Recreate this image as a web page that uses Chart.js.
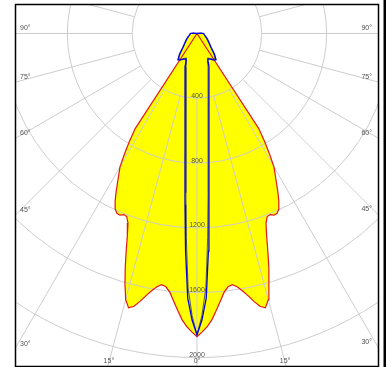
<!DOCTYPE html>
<html>
<head>
<meta charset="utf-8">
<script src="https://cdn.jsdelivr.net/npm/chart.js@4.4.0/dist/chart.umd.min.js"></script>
<style>
  html, body { margin: 0; padding: 0; background: #fff; }
</style>
</head>
<body>
<canvas id="polarChart" width="387" height="367"></canvas>
<script>
// luminous intensity (cd) against gamma angle (deg), curves are symmetric about 0°
const redAngles  = [0, 1, 2, 3, 4, 5, 6, 7, 8, 9, 10, 11, 12, 13, 14, 15, 16, 17, 18, 19, 20, 21, 22, 23, 24, 25, 26, 27, 28, 29, 30, 31, 32, 33, 34];
const redValues  = [1871, 1842, 1810, 1768, 1712, 1657, 1605, 1575, 1566, 1582, 1612, 1648, 1690, 1728, 1745, 1700, 1612, 1515, 1415, 1320, 1245, 1210, 1205, 1218, 1215, 1195, 1152, 1100, 1045, 995, 950, 870, 790, 700, 0];
const blueAngles = [0, 1, 2, 3, 4, 5, 6, 7, 8, 10, 12, 14, 16, 18, 20, 22, 24, 27, 30, 33, 36, 40, 45, 50, 60, 70, 80, 90, 95, 100];
const blueValues = [1860, 1767, 1635, 1345, 1060, 850, 705, 605, 530, 425, 355, 305, 268, 238, 212, 180, 172, 178, 186, 195, 200, 168, 125, 103, 76, 58, 46, 42, 25, 0];
const greyValues = [1860, 1740, 1570, 1260, 985, 790, 655, 560, 490, 392, 328, 282, 247, 220, 196, 168, 165, 172, 180, 188, 192, 160, 118, 98, 72, 55, 44, 40, 22, 0];
const ringValues = [400, 800, 1200, 1600, 2000];
const angleTicks = [0, 15, 30, 45, 60, 75, 90];

function toPoints(angles, values) {
  const pts = [];
  for (let i = angles.length - 1; i >= 0; i--) {
    const t = angles[i] * Math.PI / 180;
    pts.push({x: -values[i] * Math.sin(t), y: -values[i] * Math.cos(t)});
  }
  for (let i = 1; i < angles.length; i++) {
    const t = angles[i] * Math.PI / 180;
    pts.push({x: values[i] * Math.sin(t), y: -values[i] * Math.cos(t)});
  }
  return pts;
}

const redPts = toPoints(redAngles, redValues);
const bluePts = toPoints(blueAngles, blueValues);
const greyPts = toPoints(blueAngles, greyValues);

const polarGrid = {
  id: 'polarGrid',
  beforeDatasetDraw(chart, args) {
    if (args.index !== 2) return;
    const {ctx, chartArea: a, scales: {x, y}} = chart;
    const cx = x.getPixelForValue(0), cy = y.getPixelForValue(0);
    const rad = v => x.getPixelForValue(v) - cx;
    ctx.save();
    ctx.beginPath();
    ctx.rect(a.left, a.top, a.right - a.left, a.bottom - a.top);
    ctx.clip();
    ctx.strokeStyle = '#cdcdcd';
    ctx.lineWidth = 1;
    ringValues.forEach(v => {
      ctx.beginPath();
      ctx.arc(cx, cy, rad(v), 0, Math.PI * 2);
      ctx.stroke();
    });
    const r0 = rad(ringValues[0]), r1 = rad(3000);
    for (let deg = 0; deg < 360; deg += 15) {
      const t = deg * Math.PI / 180;
      ctx.beginPath();
      ctx.moveTo(cx + r0 * Math.sin(t), cy + r0 * Math.cos(t));
      ctx.lineTo(cx + r1 * Math.sin(t), cy + r1 * Math.cos(t));
      ctx.stroke();
    }
    ctx.restore();
  },
  afterDatasetsDraw(chart) {
    const {ctx, chartArea: a, scales: {x, y}} = chart;
    const cx = x.getPixelForValue(0), cy = y.getPixelForValue(0);
    ctx.save();
    ctx.font = '7px "Liberation Sans", Arial, sans-serif';
    ctx.fillStyle = '#505050';
    ctx.textBaseline = 'middle';

    // intensity values along 0°
    ctx.textAlign = 'center';
    ringValues.forEach(v => {
      ctx.fillText(String(v), cx, y.getPixelForValue(-v) - 2.5);
    });

    // angle labels where the rays meet the frame
    angleTicks.forEach(deg => {
      const t = deg * Math.PI / 180;
      const sides = deg === 0 ? [1] : [-1, 1];
      sides.forEach(side => {
        const s = Math.sin(t), c = Math.cos(t);
        const tx = s > 0 ? (side < 0 ? cx - a.left : a.right - cx) / s : Infinity;
        const ty = c > 1e-6 ? (a.bottom - cy) / c : Infinity;
        const txt = deg + '°';
        if (tx < ty) {
          const yi = cy + tx * c;
          ctx.textAlign = side < 0 ? 'left' : 'right';
          ctx.fillText(txt, side < 0 ? a.left + 5 : a.right - 6, yi - 5);
        } else {
          const xi = cx + side * ty * s;
          ctx.textAlign = 'center';
          ctx.fillText(txt, deg === 0 ? xi : xi - side, a.bottom - 4.5);
        }
      });
    });

    // frame
    ctx.strokeStyle = '#000';
    ctx.lineWidth = 1.5;
    ctx.strokeRect(a.left + 0.5, a.top + 0.5, a.right - a.left, a.bottom - a.top);
    ctx.fillStyle = '#000';
    ctx.fillRect(383.5, 0, 2.5, chart.height);
    ctx.restore();
  }
};

new Chart(document.getElementById('polarChart'), {
  type: 'scatter',
  data: {
    datasets: [
      {label: 'C90-C270', data: bluePts, showLine: true, borderColor: '#0000e0', borderWidth: 1.3, pointRadius: 0, fill: false},
      {label: 'C90-C270 b', data: greyPts, showLine: true, borderColor: '#5a5a5a', borderWidth: 1, pointRadius: 0, fill: false},
      {label: 'C0-C180', data: redPts, showLine: true, borderColor: '#e01818', borderWidth: 1.2, pointRadius: 0, fill: false},
      {label: 'fill b', data: bluePts, showLine: true, borderWidth: 0, borderColor: 'rgba(0,0,0,0)', backgroundColor: '#ffff00', pointRadius: 0, fill: 'shape'},
      {label: 'fill a', data: redPts, showLine: true, borderWidth: 0, borderColor: 'rgba(0,0,0,0)', backgroundColor: '#ffff00', pointRadius: 0, fill: 'shape'}
    ]
  },
  options: {
    responsive: false,
    animation: false,
    layout: {padding: {left: 15, top: 4, right: 9, bottom: 1}},
    scales: {
      x: {type: 'linear', min: -1123, max: 1117, display: false},
      y: {type: 'linear', min: -2052, max: 182, display: false}
    },
    plugins: {
      legend: {display: false},
      tooltip: {enabled: false}
    }
  },
  plugins: [polarGrid]
});
</script>
</body>
</html>
